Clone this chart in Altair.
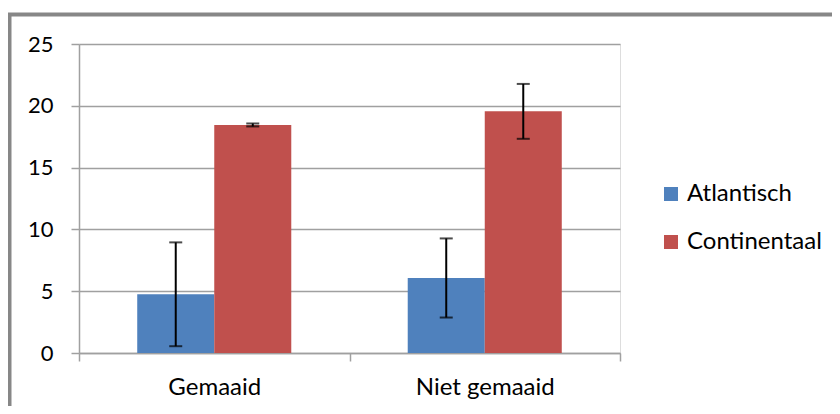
import altair as alt
import pandas as pd

groups = ["Gemaaid", "Niet gemaaid"]
series = ["Atlantisch", "Continentaal"]
atlantisch_mean = [4.75, 6.07]
atlantisch_err = [4.2, 3.2]
continentaal_mean = [18.45, 19.55]
continentaal_err = [0.12, 2.22]
colors = ["#4F81BD", "#C0504D"]
y_ticks = [0, 5, 10, 15, 20, 25]

rows = []
for g, m, e in zip(groups, atlantisch_mean, atlantisch_err):
    rows.append({"groep": g, "reeks": "Atlantisch", "waarde": m, "lo": m - e, "hi": m + e})
for g, m, e in zip(groups, continentaal_mean, continentaal_err):
    rows.append({"groep": g, "reeks": "Continentaal", "waarde": m, "lo": m - e, "hi": m + e})
df = pd.DataFrame(rows)

FONT = "Lato"
GRID = "#a0a0a0"

x_enc = alt.X("groep:N", sort=groups, title=None,
              scale=alt.Scale(paddingInner=0, paddingOuter=0),
              axis=alt.Axis(labelAngle=0, labelFontSize=24, labelFont=FONT, labelColor="#000000",
                            labelPadding=14, tickSize=8, tickBand="extent", tickColor=GRID,
                            tickWidth=1.5, domainColor=GRID, domainWidth=1.5, grid=False))
xoff = alt.XOffset("reeks:N", sort=series,
                   scale=alt.Scale(paddingInner=0, paddingOuter=0.756))
y_scale = alt.Scale(domain=[0, 25], nice=False, zero=True)

base = alt.Chart(df)

bars = base.mark_bar(stroke=None).encode(
    x=x_enc,
    xOffset=xoff,
    y=alt.Y("waarde:Q", scale=y_scale, title=None,
            axis=alt.Axis(values=y_ticks, labelFontSize=22, labelFont=FONT, labelColor="#000000",
                          labelPadding=18, tickSize=8, tickColor=GRID, tickWidth=1.5,
                          domainColor=GRID, domainWidth=1.5, grid=True, gridColor=GRID,
                          gridWidth=1.5)),
    color=alt.Color("reeks:N", sort=series,
                    scale=alt.Scale(domain=series, range=colors),
                    legend=alt.Legend(title=None, orient="none", legendX=580, legendY=138,
                                      symbolType="square", symbolSize=196, symbolStrokeWidth=0,
                                      labelFontSize=24, labelFont=FONT, labelColor="#000000",
                                      labelOffset=4, rowPadding=24, padding=0)),
)

rules = base.mark_rule(color="#000000", strokeWidth=2).encode(
    x=alt.X("groep:N", sort=groups),
    xOffset=xoff,
    y=alt.Y("lo:Q", scale=y_scale),
    y2="hi:Q",
)
caps_lo = base.mark_tick(color="#000000", thickness=2, size=13).encode(
    x=alt.X("groep:N", sort=groups),
    xOffset=xoff,
    y=alt.Y("lo:Q", scale=y_scale),
)
caps_hi = base.mark_tick(color="#000000", thickness=2, size=13).encode(
    x=alt.X("groep:N", sort=groups),
    xOffset=xoff,
    y=alt.Y("hi:Q", scale=y_scale),
)

frame = alt.Chart(pd.DataFrame({"a": [0]})).mark_rect(
    fill=None, stroke="#878787", strokeWidth=4
).encode(
    x=alt.value(-69.5), x2=alt.value(800), y=alt.value(-29.6), y2=alt.value(420)
)

chart = alt.layer(bars, rules, caps_lo, caps_hi, frame).properties(
    width=541, height=309,
    autosize=alt.AutoSizeParams(type="none"),
    padding={"left": 71, "top": 36, "right": 212, "bottom": 53},
).configure_view(stroke=None).configure(background="#ffffff")

chart.save("out.html", embed_options={"renderer": "svg", "actions": False})
